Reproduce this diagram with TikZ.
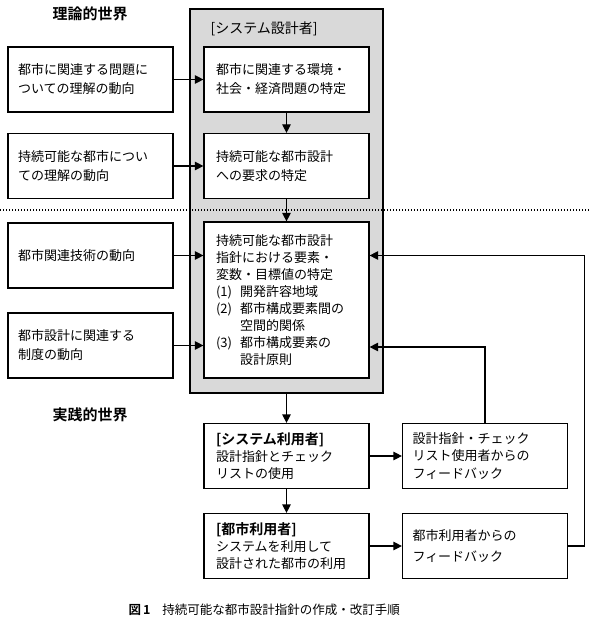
\documentclass[tikz,border=0pt]{standalone}
\usepackage{fontspec}
\setmainfont{Noto Sans CJK JP}[BoldFont={Noto Sans CJK JP Bold}]
\usetikzlibrary{arrows.meta}

\tikzset{
  box/.style={draw, line width=1.2pt, fill=white, minimum width=165pt, minimum height=65pt,
    inner xsep=10pt, text width=145pt, align=left, font=\fontsize{13}{19}\selectfont},
  mbox/.style={box, inner xsep=12pt, text width=141pt},
  designer/.style={draw, line width=1.4pt, fill=black!15, minimum width=193pt, minimum height=384pt},
  world/.style={anchor=west, font=\bfseries\fontsize{15}{15}\selectfont},
  arr/.style={line width=1.2pt, -{Triangle[length=8.5pt,width=8.5pt]}},
}

\begin{document}
\begin{tikzpicture}[x=1pt,y=-1pt]
\useasboundingbox (0,0) rectangle (590,631);
\node[designer] (sys) at (286.5,201) {};
\node[anchor=west, font=\fontsize{14}{14}\selectfont] (sysname) at (207,29) {[システム設計者]};
\node[world] (theory) at (49,14) {理論的世界};
\node[world] (practice) at (49,415) {実践的世界};

\node[box] (urban) at (90.5,79.5) {都市に関連する問題に\\ついての理解の動向};
\node[box] (sustain) at (90.5,166) {持続可能な都市につい\\ての理解の動向};
\node[box] (tech) at (90.5,255.5) {都市関連技術の動向};
\node[box] (law) at (90.5,345.5) {都市設計に関連する\\制度の動向};

\node[mbox] (issue) at (286.5,79.5) {都市に関連する環境・\\社会・経済問題の特定};
\node[mbox] (need) at (286.5,166) {持続可能な都市設計\\への要求の特定};
\node[mbox, minimum height=156pt, font=\fontsize{13}{17}\selectfont] (guide) at (286.5,300) {持続可能な都市設計\\指針における要素・\\変数・目標値の特定\\
  \makebox[24pt][l]{(1)}開発許容地域\\
  \makebox[24pt][l]{(2)}都市構成要素間の\\\hspace*{24pt}空間的関係\\
  \makebox[24pt][l]{(3)}都市構成要素の\\\hspace*{24pt}設計原則};

\node[mbox, font=\fontsize{13}{17}\selectfont] (user) at (286.5,456) {{\bfseries\fontsize{14}{17}\selectfont [システム利用者]}\\設計指針とチェック\\リストの使用};
\node[mbox, font=\fontsize{13}{17}\selectfont] (citizen) at (286.5,546) {{\bfseries\fontsize{14}{17}\selectfont [都市利用者]}\\システムを利用して\\設計された都市の利用};
\node[box, font=\fontsize{13}{17.5}\selectfont] (fbuser) at (485,456) {設計指針・チェック\\リスト使用者からの\\フィードバック};
\node[box, font=\fontsize{13}{21}\selectfont] (fbcitizen) at (485,546) {都市利用者からの\\フィードバック};

\node[anchor=west, font=\fontsize{12.5}{14}\selectfont] (caption) at (125,610) {\textbf{図\,1}\hspace{12pt}持続可能な都市設計指針の作成・改訂手順};

\draw[line width=1.2pt, dash pattern=on 1.2pt off 1.8pt] (0,210) -- (590,210);

\draw[arr] (urban.east) -- (issue.west);
\draw[arr] (sustain.east) -- (need.west);
\draw[arr] (tech.east) -- (tech.east -| guide.west);
\draw[arr] (law.east) -- (law.east -| guide.west);
\draw[arr] (issue.south) -- (need.north);
\draw[arr] (need.south) -- (guide.north);
\draw[arr] (sys.south) -- (user.north);
\draw[arr] (user.south) -- (citizen.north);
\draw[arr] (user.east) -- (fbuser.west);
\draw[arr] (citizen.east) -- (fbcitizen.west);
\draw[arr] (fbuser.north) |- ([yshift=-1.5pt]law.east -| guide.east);
\draw[arr] (fbcitizen.east) -- ++(16,0) |- (tech.east -| guide.east);
\end{tikzpicture}
\end{document}
